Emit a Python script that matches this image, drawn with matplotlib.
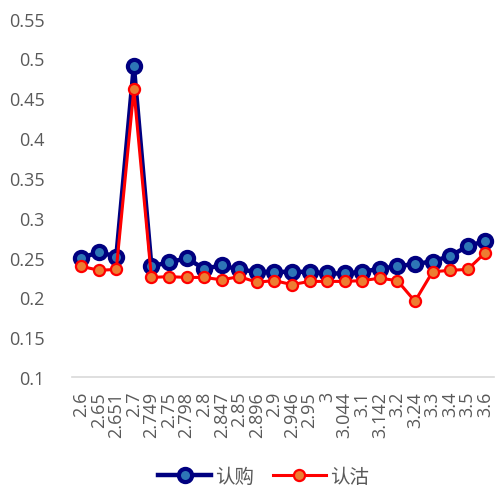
import matplotlib
matplotlib.use('Agg')
import matplotlib.pyplot as plt
import numpy as np

plt.rcParams['font.family'] = ['Noto Sans CJK SC', 'DejaVu Sans']

# 行权价
strikes = ['2.6', '2.65', '2.651', '2.7', '2.749', '2.75', '2.798', '2.8',
           '2.847', '2.85', '2.896', '2.9', '2.946', '2.95', '3', '3.044',
           '3.1', '3.142', '3.2', '3.24', '3.3', '3.4', '3.5', '3.6']

# 隐含波动率
call_iv = [0.249, 0.257, 0.251, 0.491, 0.239, 0.244, 0.249, 0.236,
           0.240, 0.235, 0.232, 0.232, 0.232, 0.232, 0.230, 0.230,
           0.232, 0.236, 0.239, 0.242, 0.245, 0.252, 0.264, 0.271]
put_iv = [0.239, 0.234, 0.235, 0.461, 0.225, 0.226, 0.225, 0.225,
          0.222, 0.226, 0.219, 0.221, 0.216, 0.220, 0.220, 0.220,
          0.221, 0.224, 0.221, 0.195, 0.232, 0.234, 0.235, 0.256]

grey = '#595959'
x = np.arange(len(strikes))

fig = plt.figure(figsize=(4.99, 4.89), dpi=100)
ax = fig.add_axes([0.145, 0.227, 0.845, 0.733])

ax.plot(x, call_iv, color='#000080', linewidth=3.2, marker='o', markersize=9.5,
        markerfacecolor='#2E75B6', markeredgecolor='#000080', markeredgewidth=3,
        label='认购', zorder=3)
ax.plot(x, put_iv, color='#FF0000', linewidth=2.2, marker='o', markersize=8,
        markerfacecolor='#ED7D31', markeredgecolor='#FF0000', markeredgewidth=1.6,
        label='认沽', zorder=4)

ax.set_ylim(0.1, 0.55)
ax.set_yticks(np.arange(0.1, 0.551, 0.05))
ax.set_yticklabels(['0.1', '0.15', '0.2', '0.25', '0.3', '0.35', '0.4', '0.45', '0.5', '0.55'])
ax.set_xlim(-0.5, len(strikes) - 0.5)
ax.set_xticks(x)
ax.set_xticklabels(strikes, rotation=90)

for s in ['top', 'right', 'left']:
    ax.spines[s].set_visible(False)
ax.spines['bottom'].set_color('#D9D9D9')
ax.spines['bottom'].set_linewidth(1.2)
ax.tick_params(axis='both', length=0, colors=grey, labelsize=13)
ax.tick_params(axis='y', pad=20)
ax.tick_params(axis='x', pad=10)
for lab in ax.get_xticklabels() + ax.get_yticklabels():
    lab.set_family(['Open Sans', 'DejaVu Sans'])

handles, labels = ax.get_legend_handles_labels()
leg = fig.legend(handles, labels, loc='center', bbox_to_anchor=(0.528, 0.024),
                 ncol=2, frameon=False, fontsize=14, handlelength=2.7,
                 columnspacing=1.0, handletextpad=0.2, borderpad=0)
for t in leg.get_texts():
    t.set_color(grey)

fig.savefig('out.png', dpi=100)
